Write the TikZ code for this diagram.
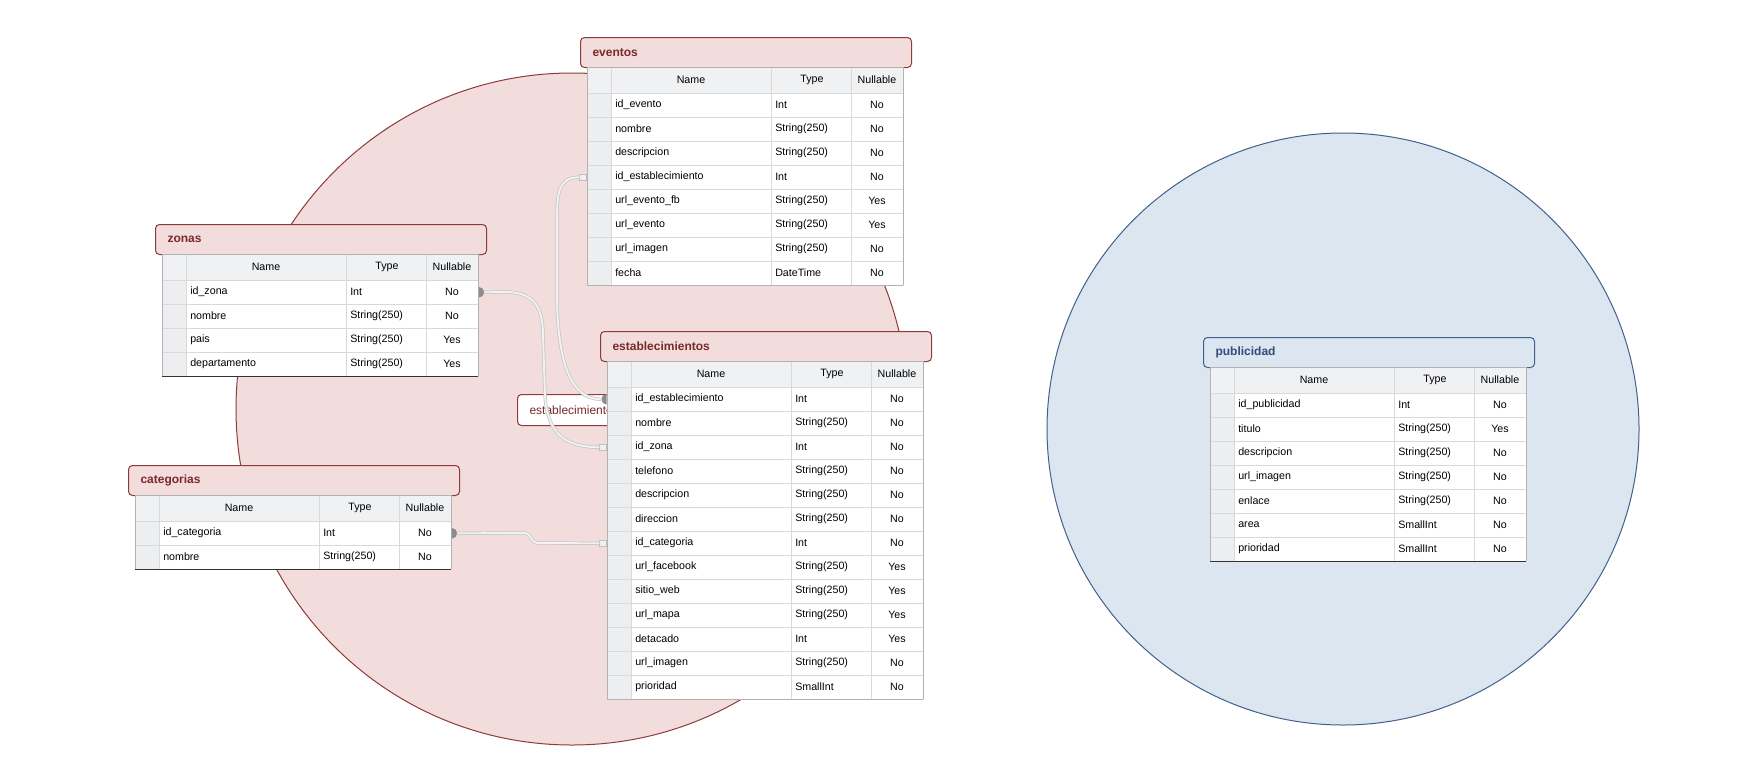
\documentclass[tikz,border=0pt]{standalone}
\usepackage{fontspec}
\setmainfont{Liberation Sans}
\usetikzlibrary{shapes.geometric}

\definecolor{rojoFondo}{HTML}{F2DCDC}
\definecolor{rojoBorde}{HTML}{8E3B3B}
\definecolor{rojoTexto}{HTML}{7A2A2A}
\definecolor{azulFondo}{HTML}{DCE6F1}
\definecolor{azulBorde}{HTML}{41618C}
\definecolor{azulTexto}{HTML}{2E4D7A}
\definecolor{cabGris}{HTML}{F0F1F3}
\definecolor{tiraGris}{HTML}{ECEEF0}

% テーブルを描くマクロ
\newcommand{\tabla}[8]{%
  \node[cabecera, fill=#5Fondo, draw=#5Borde, text=#5Texto] (#1) at (#2-7,#3) {#4};
  \pgfmathsetmacro{\fondo}{#3+56+#6*24}
  \fill[white] (#2,#3+30) rectangle (#2+316,\fondo);
  \fill[cabGris] (#2,#3+30) rectangle (#2+316,#3+56);
  \fill[tiraGris] (#2,#3+56) rectangle (#2+24,\fondo);
  \node[celda] (#1-name) at (#2+104,#3+43) {Name};
  \node[celda] (#1-type) at (#2+225,#3+43) {Type};
  \node[celda] (#1-null) at (#2+290,#3+43) {Nullable};
  \foreach \nom/\tip/\nul [count=\i] in {#8} {
    \node[fila] (#1-\i) at (#2,#3+32+\i*24) {};
    \node[celda, anchor=west] (#1-\i-a) at (#2+28,#3+44+\i*24) {\nom};
    \node[celda, anchor=west] (#1-\i-b) at (#2+188,#3+44+\i*24) {\tip};
    \node[celda] (#1-\i-c) at (#2+290,#3+44+\i*24) {\nul};
  }
  \draw[rejilla] (#2,#3+56) -- (#2+316,#3+56)
    (#2+24,#3+30) -- (#2+24,\fondo)
    (#2+184,#3+30) -- (#2+184,\fondo)
    (#2+264,#3+30) -- (#2+264,\fondo);
  \draw[gray!60] (#2,\fondo) -- (#2,#3+30) -- (#2+316,#3+30) -- (#2+316,\fondo);
  \draw[#7] (#2,\fondo) -- (#2+316,\fondo);
}

\begin{document}
\begin{tikzpicture}[x=0.75pt, y=-0.75pt,
    cabecera/.style={rectangle, anchor=north west, rounded corners=3pt, line width=0.75pt,
      minimum height=22.5pt, text width=230.25pt, inner xsep=9pt, align=left,
      font=\fontsize{9}{11}\selectfont\bfseries},
    celda/.style={inner sep=0pt, font=\fontsize{8}{9}\selectfont},
    fila/.style={rectangle, anchor=north west, draw=gray!30, minimum width=237pt,
      minimum height=18pt, inner sep=0pt},
    rejilla/.style={draw=gray!30},
    tope/.style={rectangle, fill=gray!12, draw=gray!50, line width=0.4pt,
      minimum width=5.25pt, minimum height=4.5pt, inner sep=0pt},
    punto/.style={semicircle, fill=black!45, minimum size=4pt, inner sep=0pt, anchor=chord center},
    enlace/.style={draw=gray!45, line width=0.55pt, double=gray!10, double distance=1.4pt}]
  \useasboundingbox (0,0) rectangle (1759,772);

  % 円の定義
  \node[circle, fill=rojoFondo, draw=rojoBorde, line width=0.75pt, minimum size=504pt, inner sep=0pt] (grupo-rojo) at (572,409) {};
  \node[circle, fill=azulFondo, draw=azulBorde, line width=0.75pt, minimum size=444pt, inner sep=0pt] (grupo-azul) at (1343,429) {};

  \node[rectangle, anchor=north west, rounded corners=3pt, draw=rojoBorde, fill=white, line width=0.75pt,
    minimum height=23.25pt, text width=80pt, inner xsep=9pt, align=left, text=rojoTexto,
    font=\fontsize{9}{11}\selectfont] (etiqueta) at (517,394) {establecimientos};

  % テーブル
  \tabla{eventos}{587}{37}{eventos}{rojo}{8}{gray!60}{id\_evento/Int/No, nombre/String(250)/No,
    descripcion/String(250)/No, id\_establecimiento/Int/No, url\_evento\_fb/String(250)/Yes,
    url\_evento/String(250)/Yes, url\_imagen/String(250)/No, fecha/DateTime/No}
  \tabla{zonas}{162}{224}{zonas}{rojo}{4}{black!80}{id\_zona/Int/No, nombre/String(250)/No,
    pais/String(250)/Yes, departamento/String(250)/Yes}
  \tabla{categorias}{135}{465}{categorias}{rojo}{2}{black!80}{id\_categoria/Int/No, nombre/String(250)/No}
  \tabla{establecimientos}{607}{331}{establecimientos}{rojo}{13}{gray!60}{id\_establecimiento/Int/No,
    nombre/String(250)/No, id\_zona/Int/No, telefono/String(250)/No, descripcion/String(250)/No,
    direccion/String(250)/No, id\_categoria/Int/No, url\_facebook/String(250)/Yes,
    sitio\_web/String(250)/Yes, url\_mapa/String(250)/Yes, detacado/Int/Yes,
    url\_imagen/String(250)/No, prioridad/SmallInt/No}
  \tabla{publicidad}{1210}{337}{publicidad}{azul}{7}{black!80}{id\_publicidad/Int/No,
    titulo/String(250)/Yes, descripcion/String(250)/No, url\_imagen/String(250)/No,
    enlace/String(250)/No, area/SmallInt/No, prioridad/SmallInt/No}

  % 接続線の端
  \node[tope, anchor=east] (t1) at (eventos-4.west) {};
  \node[tope, anchor=east] (t2) at (establecimientos-3.west) {};
  \node[tope, anchor=east] (t3) at (establecimientos-7.west) {};
  \node[punto, rotate=90] (d1) at (establecimientos-1.west) {};
  \node[punto, rotate=-90] (d2) at (zonas-1.east) {};
  \node[punto, rotate=-90] (d3) at (categorias-1.east) {};

  % 接続線
  \draw[enlace] (t1.west) .. controls +(-22,0) and +(0,-28) .. (557,222) -- (557,292)
    .. controls +(0,72) and +(-30,0) .. (d1.apex);
  \draw[enlace] (d2.apex) -- (505,292) .. controls +(27,0) and +(0,-30) .. (543,335) -- (545,395)
    .. controls +(2,38) and +(-35,0) .. (t2.west);
  \draw[enlace] (d3.apex) -- (525,533) .. controls +(6,0) and +(-6,0) .. (537,543) -- (t3.west);

\end{tikzpicture}
\end{document}
